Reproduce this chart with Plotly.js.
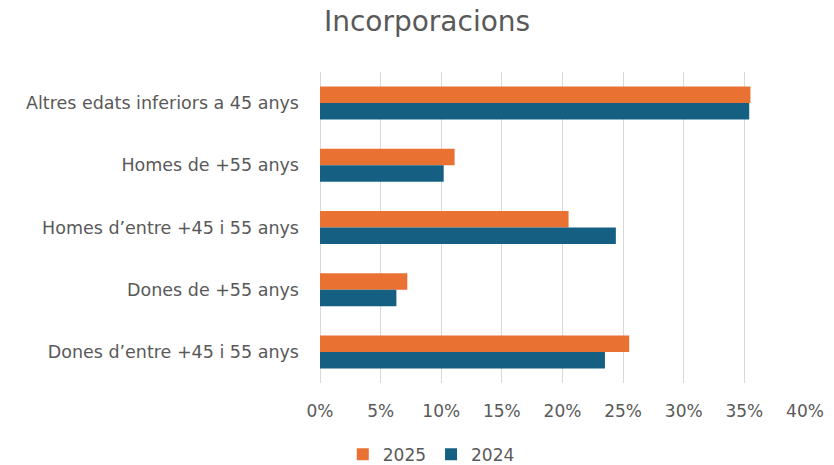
<!DOCTYPE html>
<html>
<head>
<meta charset="utf-8">
<script src="https://cdn.plot.ly/plotly-3.0.1.min.js"></script>
<style>
  html, body { margin: 0; padding: 0; background: #ffffff; }
  #chart { width: 834px; height: 465px; }
</style>
</head>
<body>
<div id="chart"></div>
<script>
// Age/gender groups, listed top to bottom
const categories = [
  "Altres edats inferiors a 45 anys",
  "Homes de +55 anys",
  "Homes d\u2019entre +45 i 55 anys",
  "Dones de +55 anys",
  "Dones d\u2019entre +45 i 55 anys"
];

// Share of new hires per group (fractions)
const values2025 = [0.355, 0.111, 0.205, 0.072, 0.255];
const values2024 = [0.354, 0.102, 0.244, 0.063, 0.235];

const xTickValues = [0, 0.05, 0.10, 0.15, 0.20, 0.25, 0.30, 0.35, 0.40];

const textColor = "#595959";
const fontFamily = "'DejaVu Sans', 'Open Sans', sans-serif";

const traces = [
  {
    type: "bar",
    orientation: "h",
    name: "2025",
    y: categories,
    x: values2025,
    marker: { color: "#E97132" },
    hoverinfo: "x+name"
  },
  {
    type: "bar",
    orientation: "h",
    name: "2024",
    y: categories,
    x: values2024,
    marker: { color: "#156082" },
    hoverinfo: "x+name"
  }
];

const layout = {
  width: 834,
  height: 465,
  paper_bgcolor: "#ffffff",
  plot_bgcolor: "#ffffff",
  margin: { l: 320, r: 29, t: 72, b: 82, autoexpand: false },
  font: { family: fontFamily, color: textColor, size: 16 },
  title: {
    text: "Incorporacions",
    font: { family: fontFamily, size: 28, color: textColor },
    x: 0.512,
    xanchor: "center",
    y: 0.955,
    yanchor: "middle"
  },
  barmode: "group",
  bargap: 0.47,
  bargroupgap: 0,
  xaxis: {
    range: [0, 0.4],
    tickvals: xTickValues,
    tickformat: ".0%",
    showgrid: true,
    gridcolor: "#d9d9d9",
    gridwidth: 1,
    zeroline: true,
    zerolinecolor: "#d9d9d9",
    zerolinewidth: 1,
    showline: false,
    ticks: "",
    ticklabelstandoff: 16,
    tickfont: { size: 17, color: textColor }
  },
  yaxis: {
    type: "category",
    autorange: "reversed",
    showgrid: false,
    zeroline: false,
    showline: false,
    ticks: "",
    ticklabelstandoff: 20,
    tickfont: { size: 17.5, color: textColor }
  },
  showlegend: true,
  legend: {
    orientation: "h",
    xref: "container",
    yref: "container",
    x: 0.411,
    xanchor: "left",
    y: 0.022,
    yanchor: "middle",
    font: { size: 17, color: textColor },
    itemwidth: 30
  }
};

Plotly.newPlot("chart", traces, layout, { displayModeBar: false, staticPlot: true });
</script>
</body>
</html>
